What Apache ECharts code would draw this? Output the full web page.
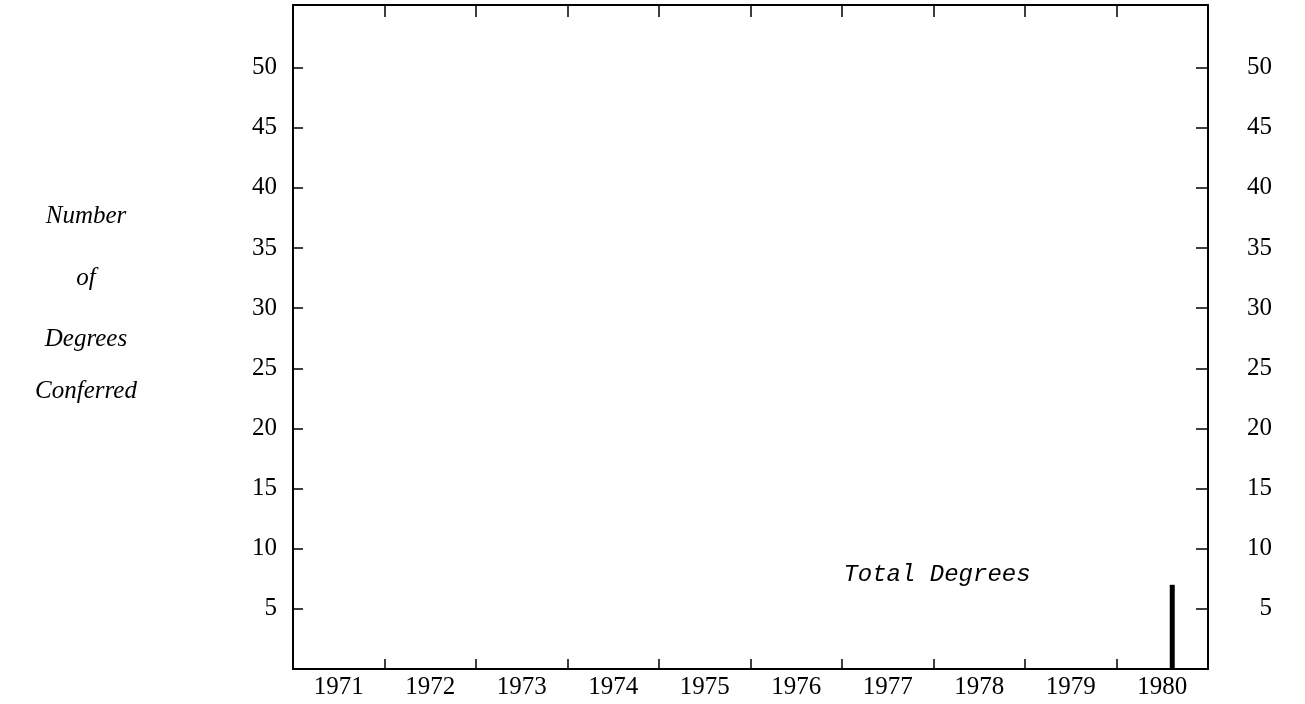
<!DOCTYPE html>
<html>
<head>
<meta charset="utf-8">
<script src="https://cdn.jsdelivr.net/npm/echarts@6/dist/echarts.min.js"></script>
<style>
html,body{margin:0;padding:0;background:#fff;}
#chart{width:1305px;height:704px;}
</style>
</head>
<body>
<div id="chart"></div>
<script>
const years = ['1971','1972','1973','1974','1975','1976','1977','1978','1979','1980'];
const totalDegrees = [0,0,0,0,0,0,0,0,0,7];
const spacer = [null,null,null,null,null,null,null,null,null,null];
const yTicks = [5,10,15,20,25,30,35,40,45,50];
const yTitleLines = ['Number','of','Degrees','Conferred'];
const seriesLabel = 'Total Degrees';

const FONT = 'Liberation Serif';
const FS = 25;
const titleY = [216, 278, 339, 391];
const chart = echarts.init(document.getElementById('chart'), null, {renderer:'canvas'});

const yAxisCommon = {
  type:'value', min:0, max:55.2, interval:5,
  axisLine:{show:true, onZero:false, lineStyle:{color:'#000', width:2}},
  axisTick:{show:true, inside:true, length:10, customValues: yTicks, lineStyle:{color:'#000', width:1.5}},
  splitLine:{show:false},
};

chart.setOption({
  animation:false,
  backgroundColor:'#fff',
  grid:{left:293, right:97, top:5, bottom:35, containLabel:false},
  xAxis:[{
    type:'category', data:years, position:'bottom', boundaryGap:true,
    axisLine:{show:true, onZero:false, lineStyle:{color:'#000', width:2}},
    axisTick:{show:true, inside:true, length:10, interval:0, lineStyle:{color:'#000', width:1.5}},
    axisLabel:{show:true, interval:0, margin:6, color:'#000', fontFamily:FONT, fontSize:FS},
    splitLine:{show:false}
  },{
    type:'category', data:years, position:'top', boundaryGap:true,
    axisLine:{show:true, onZero:false, lineStyle:{color:'#000', width:2}},
    axisTick:{show:true, inside:true, length:12, interval:0, lineStyle:{color:'#000', width:1.5}},
    axisLabel:{show:false},
    splitLine:{show:false}
  }],
  yAxis:[Object.assign({}, yAxisCommon, {
    position:'left',
    axisLabel:{show:true, customValues: yTicks, margin:16, color:'#000', fontFamily:FONT, fontSize:FS}
  }), Object.assign({}, yAxisCommon, {
    position:'right',
    axisTick:{show:true, inside:true, length:12, customValues: yTicks, lineStyle:{color:'#000', width:1.5}},
    axisLabel:{show:true, customValues: yTicks, margin:64, align:'right', color:'#000', fontFamily:FONT, fontSize:FS}
  })],
  series:[{
    name:'', type:'bar', data:spacer, barWidth:5, barGap:'300%',
    itemStyle:{color:'rgba(0,0,0,0)'}, silent:true
  },{
    name:seriesLabel, type:'bar', data:totalDegrees, barWidth:5, barGap:'300%',
    itemStyle:{color:'#000'}
  }],
  graphic:[
    ...yTitleLines.map((t,i)=>({
      type:'text', x: 86, y: titleY[i],
      style:{text:t, fontFamily:FONT, fontStyle:'italic', fontSize:25, fill:'#000', align:'center', verticalAlign:'middle'}
    })),
    {type:'text', x:937, y:575,
     style:{text:seriesLabel, fontFamily:'Liberation Mono', fontStyle:'italic', fontSize:24, fill:'#000', align:'center', verticalAlign:'middle'}}
  ]
});
</script>
</body>
</html>
